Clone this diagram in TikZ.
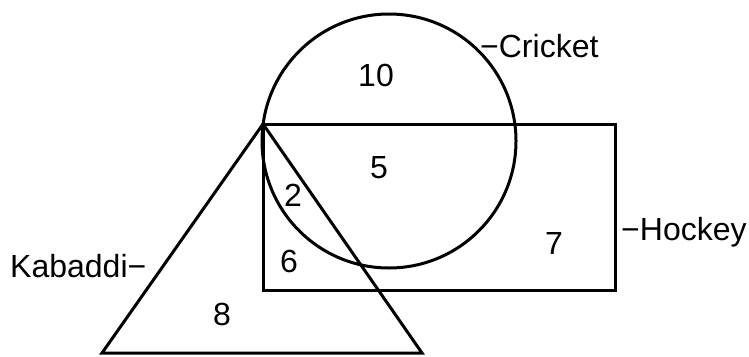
\documentclass[tikz,border=0pt]{standalone}
\usepackage{fontspec}
\setmainfont{Liberation Sans}
\begin{document}
\begin{tikzpicture}[x=1pt,y=-1pt,
  outline/.style={draw=black,line width=3pt},
  num/.style={inner sep=0pt,font=\fontsize{32}{38}\selectfont},
  lbl/.style={inner sep=0pt,anchor=base west,font=\fontsize{32}{38}\selectfont}]
\useasboundingbox (0,0) rectangle (749,356);
\coordinate (apex) at (263,124);
\coordinate (bl) at (102,353);
\coordinate (br) at (422,353);
\coordinate (rtr) at (615,290);
\node[outline,circle,inner sep=0pt,minimum size=254pt] (cricket) at (389,141) {};
\draw[outline] (apex) rectangle (rtr);
\draw[outline,line join=miter] (apex) -- (bl) -- (br) -- cycle;
\node[num] (n10) at (376,75) {10};
\node[num] (n5) at (379,168) {5};
\node[num] (n2) at (293,195) {2};
\node[num] (n6) at (289,261) {6};
\node[num] (n7) at (554,243) {7};
\node[num] (n8) at (222,314) {8};
\node[lbl] (lc) at (480,57) {−Cricket};
\node[lbl] (lh) at (621,240) {−Hockey};
\node[lbl] (lk) at (10,277) {Kabaddi−};
\end{tikzpicture}
\end{document}
